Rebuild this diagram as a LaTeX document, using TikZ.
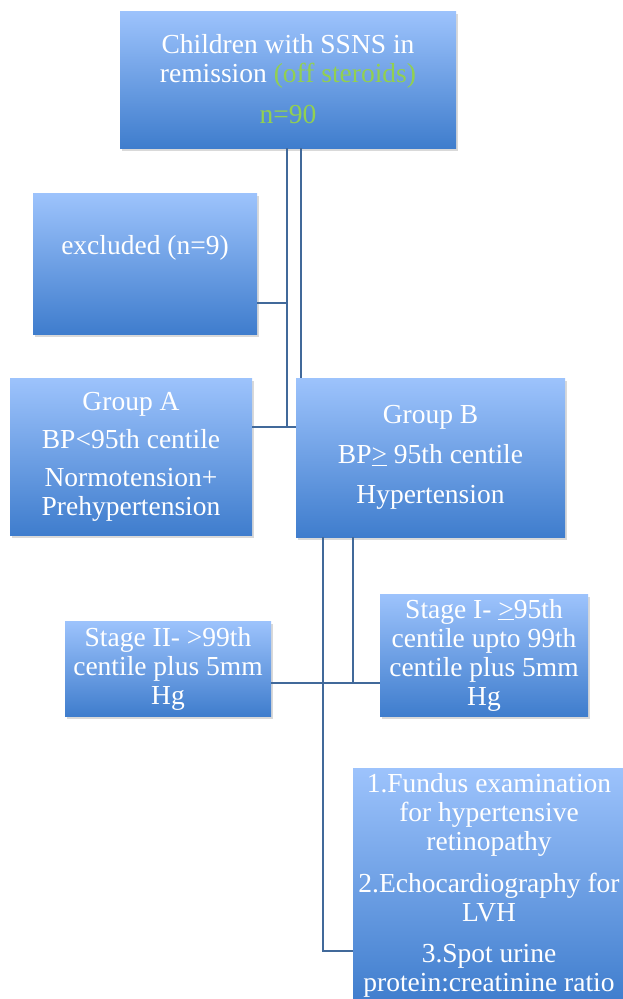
\documentclass[tikz,border=0pt]{standalone}
\usepackage{fontspec}
\setmainfont{Liberation Serif}
\usepackage{tikz}
\usetikzlibrary{shadows}
\definecolor{boxtop}{HTML}{9DC3FC}
\definecolor{boxbot}{HTML}{3F7DCD}
\definecolor{linkblue}{HTML}{41699A}
\definecolor{offgreen}{HTML}{92D050}

\begin{document}
\begin{tikzpicture}[x=1pt,y=-1pt,
	every node/.style={inner sep=0pt,align=center,text=white,font=\fontsize{27.5}{29}\selectfont},
	box/.style={rectangle,top color=boxtop,bottom color=boxbot,
		drop shadow={shadow xshift=2pt,shadow yshift=-3pt,opacity=.3}},
	link/.style={draw=linkblue,line width=1.8pt}]
	\useasboundingbox (0,0) rectangle (623,999);
	\clip (0,0) rectangle (623,999);

	\node[box,minimum width=336pt,minimum height=137pt] (top) at (288,79.5)
		{Children with SSNS in\\remission \textcolor{offgreen}{(off steroids)}\\[12pt]\textcolor{offgreen}{n=90}};
	\node[box,minimum width=224pt,minimum height=141pt] (excl) at (145,263.5) {excluded (n=9)\\[8pt]\mbox{}};

	\node[box,minimum width=242pt,minimum height=157pt] (grpA) at (131,456.5)
		{Group A\\[9pt]BP<95th centile\\[9pt]Normotension+\\Prehypertension};
	\node[box,minimum width=269pt,minimum height=159pt] (grpB) at (430.5,457.5)
		{Group B\\[11pt]BP\underline{>} 95th centile\\[11pt]Hypertension};

	\node[box,minimum width=206pt,minimum height=95pt] (st2) at (168,668.5)
		{Stage II- >99th\\centile plus 5mm\\Hg};
	\node[box,minimum width=208pt,minimum height=122pt] (st1) at (484,655)
		{Stage I- \underline{>}95th\\centile upto 99th\\centile plus 5mm\\Hg};

	\node[box,minimum width=272pt,minimum height=235pt] (tests) at (489,885.5)
		{1.Fundus examination\\for hypertensive\\retinopathy\\[13pt]2.Echocardiography for\\LVH\\[12pt]3.Spot urine\\protein:creatinine ratio};

	% bend points of the elbow connectors
	\coordinate (jx) at (287,303);
	\coordinate (ja) at (287,427);
	\coordinate (jb) at (301,0);
	\coordinate (js) at (353,683);
	\coordinate (jt) at (323,951);

	\draw[link,line width=2.2pt] (top.south -| jx) -- (jx) -- (jx -| excl.east);
	\draw[link] (jx) -- (ja);
	\draw[link] (ja -| grpA.east) -- (ja -| grpB.west);
	\draw[link] (top.south -| jb) -- (grpB.north -| jb);

	\draw[link] (grpB.south -| js) -- (js) -- (js -| st1.west);
	\draw[link] (js -| st2.east) -- (js);
	\draw[link] (grpB.south -| jt) -- (jt) -- (jt -| tests.west);
\end{tikzpicture}
\end{document}
